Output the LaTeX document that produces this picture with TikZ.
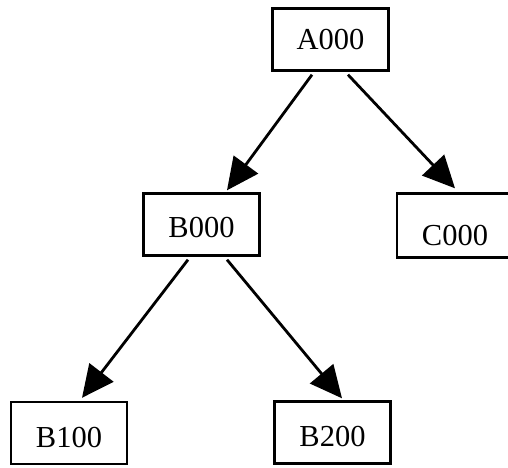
\documentclass[tikz,border=0pt]{standalone}
\usepackage{fontspec}
\setmainfont{Liberation Serif}
\usepackage{tikz}
\usetikzlibrary{arrows.meta}
\tikzstyle{code} = [rectangle, minimum width=116pt, minimum height=62pt, inner sep=0pt, text height=20pt, text depth=0pt, text centered, draw=black, line width=2.4pt, font=\fontsize{30.5}{36}\selectfont]
\tikzstyle{arrow} = [line width=2.8pt, -{Triangle[length=32pt,width=30pt]}]

\begin{document}
\begin{tikzpicture}[node distance=185pt]
\useasboundingbox (0,0) rectangle (508pt,-467pt);
\node (A000) [code] at (330.5pt,-39.5pt) {A000};
\node (B000) [code, below of=A000, xshift=-129pt, text height=26pt] {B000};
\node (C000) [code, below of=A000, xshift=124.5pt, yshift=-1pt, minimum height=64pt, text height=40pt] {C000};
\node (B100) [code, below of=B000, xshift=-132.5pt, yshift=-23.5pt, text height=28pt] {B100};
\node (B200) [code, below of=B000, xshift=131pt, yshift=-23pt, text height=28pt] {B200};
\draw [arrow] ([xshift=-18.5pt,yshift=-3pt]A000.south) -- ([xshift=25.5pt,yshift=2pt]B000.north);
\draw [arrow] ([xshift=17.5pt,yshift=-3pt]A000.south) -- ([yshift=4pt]C000.north);
\draw [arrow] ([xshift=-13.5pt,yshift=-3pt]B000.south) -- ([xshift=13pt,yshift=3pt]B100.north);
\draw [arrow] ([xshift=25.5pt,yshift=-3pt]B000.south) -- ([xshift=9.5pt,yshift=2pt]B200.north);
\end{tikzpicture}
\end{document}
